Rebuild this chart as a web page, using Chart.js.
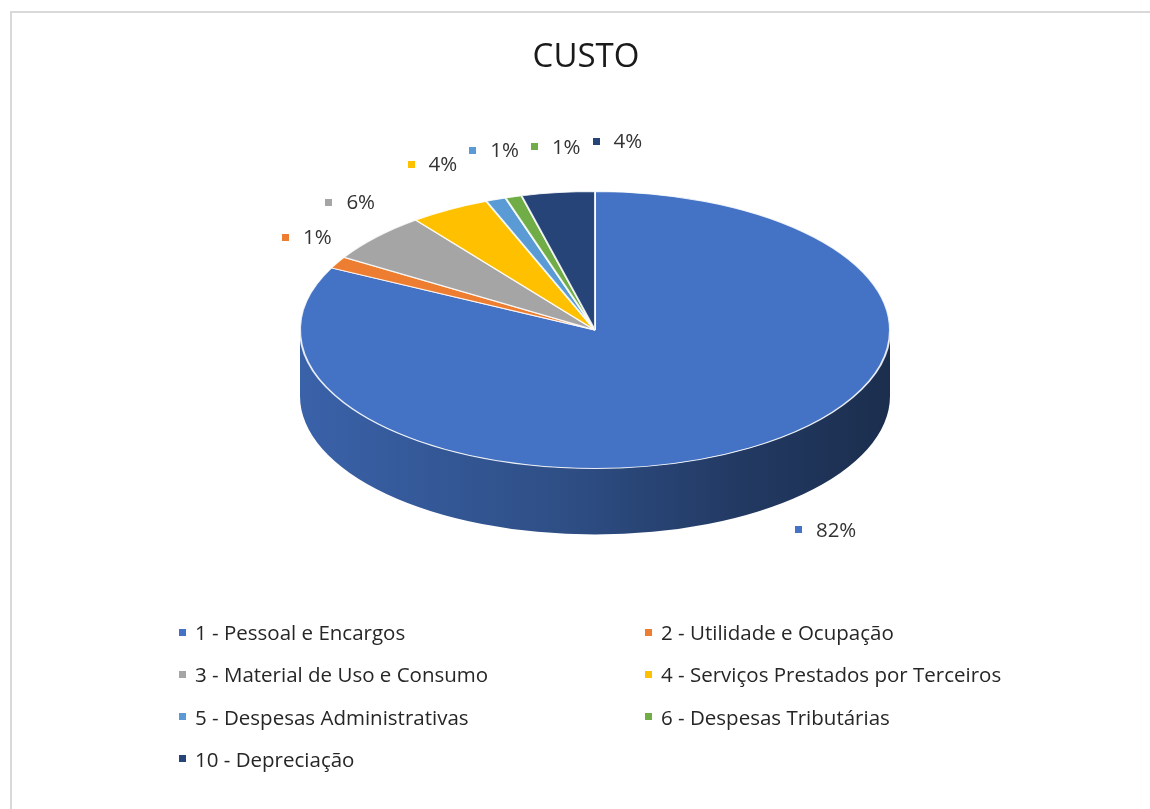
<!DOCTYPE html>
<html>
<head>
<meta charset="utf-8">
<script src="https://cdn.jsdelivr.net/npm/chart.js@4"></script>
<style>
  html, body { margin: 0; padding: 0; background: #ffffff; }
  #wrap { position: relative; width: 1150px; height: 809px; overflow: hidden; background: #fff; }
  #frame { position: absolute; left: 10px; top: 11px; width: 1200px; height: 900px;
           border-left: 2px solid #d9d9d9; border-top: 2px solid #d9d9d9; box-sizing: border-box; }
  #chart { position: absolute; left: 0; top: 0; }
  #legend { position: absolute; left: 179px; top: 618px; display: grid;
            grid-template-columns: 466px 440px; grid-auto-rows: 42.3px;
            font-family: "Open Sans", sans-serif; font-size: 20.5px; color: #262626; }
  #legend .item { display: flex; align-items: center; white-space: nowrap; height: 28px; }
  #legend .sw { width: 7px; height: 7px; margin-right: 9px; flex: none; }
</style>
</head>
<body>
<div id="wrap">
  <div id="frame"></div>
  <canvas id="chart" width="1150" height="809"></canvas>
  <div id="legend"></div>
</div>
<script>
// ---- data ----
const chartTitle = 'CUSTO';
const categories = [
  '1 - Pessoal e Encargos',
  '2 - Utilidade e Ocupação',
  '3 - Material de Uso e Consumo',
  '4 - Serviços Prestados por Terceiros',
  '5 - Despesas Administrativas',
  '6 - Despesas Tributárias',
  '10 - Depreciação'
];
const values = [82.4, 1.4, 5.8, 4.4, 1.1, 0.9, 4.0];
const colors = ['#4472C4', '#ED7D31', '#A5A5A5', '#FFC000', '#5B9BD5', '#70AD47', '#264478'];

// ---- 3D look settings ----
const PIE = { cx: 595, cy: 330, rx: 295, ry: 138.5, depth: 66 };

function shade(hex, f) {
  const n = parseInt(hex.slice(1), 16);
  const r = Math.round(((n >> 16) & 255) * f), g = Math.round(((n >> 8) & 255) * f), b = Math.round((n & 255) * f);
  return `rgb(${r},${g},${b})`;
}

const pie3d = {
  id: 'pie3d',
  beforeDatasetsDraw(chart) {
    const ctx = chart.ctx;
    const meta = chart.getDatasetMeta(0);
    const a0 = meta.data[0];
    const R = a0.outerRadius, cx0 = a0.x, cy0 = a0.y;
    const { cx, cy, rx, ry, depth } = PIE;
    // extruded side, only the front half (sin > 0) is visible
    meta.data.forEach((arc, i) => {
      const s = arc.startAngle, e = arc.endAngle;
      const windows = [[-2 * Math.PI, -Math.PI], [0, Math.PI], [2 * Math.PI, 3 * Math.PI]];
      windows.forEach(([w0, w1]) => {
        const a = Math.max(s, w0), b = Math.min(e, w1);
        if (b <= a) return;
        const col = colors[i % colors.length];
        const g = ctx.createLinearGradient(cx - rx, 0, cx + rx, 0);
        g.addColorStop(0, shade(col, 0.86));
        g.addColorStop(0.45, shade(col, 0.68));
        g.addColorStop(0.75, shade(col, 0.5));
        g.addColorStop(1, shade(col, 0.4));
        ctx.save();
        ctx.beginPath();
        ctx.ellipse(cx, cy, rx, ry, 0, a, b, false);
        ctx.lineTo(cx + rx * Math.cos(b), cy + depth + ry * Math.sin(b));
        ctx.ellipse(cx, cy + depth, rx, ry, 0, b, a, true);
        ctx.closePath();
        ctx.fillStyle = g;
        ctx.fill();
        ctx.restore();
      });
    });
    // squash the flat pie into the top face
    ctx.save();
    ctx.translate(cx, cy);
    ctx.scale(rx / R, ry / R);
    ctx.translate(-cx0, -cy0);
  },
  afterDatasetsDraw(chart) {
    chart.ctx.restore();
    // data labels
    const ctx = chart.ctx;
    const meta = chart.getDatasetMeta(0);
    const data = chart.data.datasets[0].data;
    const total = data.reduce((p, v) => p + v, 0);
    const { cx, cy, rx, ry, depth } = PIE;
    ctx.save();
    ctx.font = '20.5px "Open Sans"';
    ctx.textBaseline = 'middle';
    const boxes = [];
    meta.data.forEach((arc, i) => {
      const m = (arc.startAngle + arc.endAngle) / 2;
      const c = Math.cos(m), s = Math.sin(m);
      const txt = Math.round(data[i] / total * 100) + '%';
      const tw = ctx.measureText(txt).width;
      const w = 7 + 14 + tw;
      let left, y;
      if (s > 0) {
        // labels of the front face sit beside the lower rim
        const x = cx + rx * c + (c >= 0 ? 45 : -45);
        y = cy + ry * s + depth + 16;
        left = c >= 0 ? x : x - w;
      } else {
        const x = cx + (rx + 35) * c;
        y = cy + (ry + 52) * s;
        left = x - w / 2;
      }
      boxes.push({ i, left, y, w, txt, s });
    });
    // simple collision avoidance for top labels (push rightwards)
    const top = boxes.filter(b => b.s <= 0).sort((a, b) => a.left - b.left);
    for (let k = 1; k < top.length; k++) {
      const p = top[k - 1], q = top[k];
      if (q.left < p.left + p.w + 12 && Math.abs(q.y - p.y) < 22) q.left = p.left + p.w + 12;
    }
    boxes.forEach(b => {
      ctx.fillStyle = colors[b.i % colors.length];
      ctx.fillRect(Math.round(b.left), Math.round(b.y - 3.5), 7, 7);
      ctx.fillStyle = '#333333';
      ctx.textAlign = 'left';
      ctx.fillText(b.txt, b.left + 21, b.y + 1);
    });
    ctx.restore();
  }
};

const chart = new Chart(document.getElementById('chart'), {
  type: 'pie',
  data: {
    labels: categories,
    datasets: [{
      data: values,
      backgroundColor: colors,
      borderColor: 'rgba(255,255,255,0.85)',
      borderWidth: 2.5
    }]
  },
  options: {
    responsive: false,
    animation: false,
    layout: { padding: { left: 22, right: 0, top: 0, bottom: 0 } },
    plugins: {
      title: {
        display: true,
        text: chartTitle,
        color: '#1a1a1a',
        font: { family: '"Open Sans"', size: 33, weight: 'normal' },
        padding: { top: 38, bottom: 10 }
      },
      legend: { display: false },
      tooltip: { enabled: false }
    }
  },
  plugins: [pie3d]
});

// HTML legend built from the chart's own legend items
const legendEl = document.getElementById('legend');
chart.options.plugins.legend.labels.generateLabels(chart).forEach(it => {
  const d = document.createElement('div');
  d.className = 'item';
  const sw = document.createElement('span');
  sw.className = 'sw';
  sw.style.background = it.fillStyle;
  const t = document.createElement('span');
  t.textContent = it.text;
  d.appendChild(sw); d.appendChild(t);
  legendEl.appendChild(d);
});
</script>
</body>
</html>
